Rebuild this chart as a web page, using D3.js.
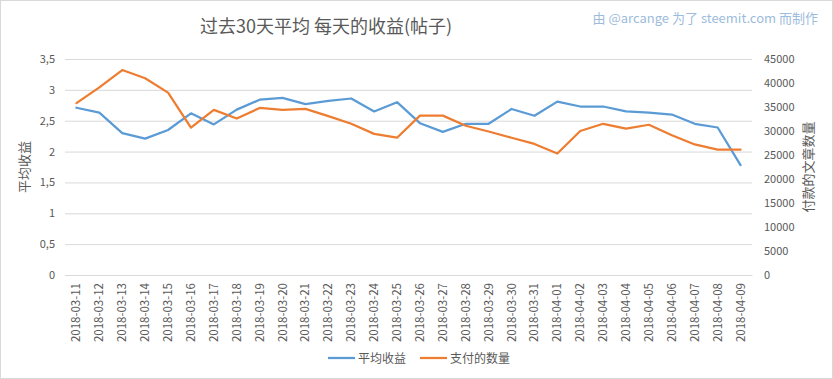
<!DOCTYPE html>
<html>
<head>
<meta charset="utf-8">
<script src="https://cdn.jsdelivr.net/npm/d3@7"></script>
<style>
body{margin:0;background:#fff;}
svg{display:block;}
text{font-family:"Noto Sans CJK SC","Noto Sans",sans-serif;}
</style>
</head>
<body>
<svg id="chart" width="833" height="379"></svg>
<script>
const dates = ["2018-03-11","2018-03-12","2018-03-13","2018-03-14","2018-03-15","2018-03-16","2018-03-17","2018-03-18","2018-03-19","2018-03-20","2018-03-21","2018-03-22","2018-03-23","2018-03-24","2018-03-25","2018-03-26","2018-03-27","2018-03-28","2018-03-29","2018-03-30","2018-03-31","2018-04-01","2018-04-02","2018-04-03","2018-04-04","2018-04-05","2018-04-06","2018-04-07","2018-04-08","2018-04-09"];
const avgIncome = [2.71,2.63,2.30,2.21,2.35,2.62,2.44,2.68,2.84,2.87,2.77,2.82,2.86,2.65,2.80,2.46,2.32,2.45,2.45,2.69,2.58,2.81,2.73,2.73,2.65,2.63,2.60,2.45,2.39,1.78];
const paidCount = [35800,39100,42700,41000,38000,30700,34400,32600,34800,34400,34600,33100,31500,29400,28600,33200,33200,31100,29900,28600,27300,25300,30000,31500,30500,31300,29100,27200,26100,26100];
const leftTicks = [0,0.5,1,1.5,2,2.5,3,3.5];
const rightTicks = [0,5000,10000,15000,20000,25000,30000,35000,40000,45000];
const titleText = "过去30天平均 每天的收益(帖子)";
const creditText = "由 @arcange 为了 steemit.com 而制作";
const leftTitle = "平均收益";
const rightTitle = "付款的文章数量";
const seriesNames = ["平均收益","支付的数量"];

const svg = d3.select("#chart");
const W = 833, H = 379;
const plot = {left:65, right:752, top:59, bottom:275};
const blue = "#5B9BD5", orange = "#ED7D31", grid = "#D9D9D9", txt = "#595959";

svg.append("rect").attr("x",0.5).attr("y",0.5).attr("width",W-1).attr("height",H-1)
  .attr("fill","#fff").attr("stroke","#D9D9D9");

const x = d3.scaleBand().domain(dates).range([plot.left, plot.right]).padding(0);
const yL = d3.scaleLinear().domain([0,3.5]).range([plot.bottom, plot.top]);
const yR = d3.scaleLinear().domain([0,45000]).range([plot.bottom, plot.top]);
const cx = d => x(d) + x.bandwidth()/2;

// gridlines
const gAxisL = svg.append("g").attr("transform",`translate(${plot.left},0)`)
  .call(d3.axisLeft(yL).tickValues(leftTicks).tickSize(-(plot.right-plot.left)).tickPadding(10)
    .tickFormat(d => String(d).replace(".",",")));
gAxisL.select(".domain").remove();
gAxisL.selectAll(".tick line").attr("stroke",grid).attr("stroke-width",1);
gAxisL.selectAll(".tick text").attr("fill",txt).style("font-size","11px").attr("font-family","'Liberation Sans',sans-serif");

const gAxisR = svg.append("g").attr("transform",`translate(${plot.right},0)`)
  .call(d3.axisRight(yR).tickValues(rightTicks).tickSize(0).tickPadding(12).tickFormat(d3.format("d")));
gAxisR.select(".domain").remove();
gAxisR.selectAll(".tick text").attr("fill",txt).style("font-size","11px").attr("font-family","'Liberation Sans',sans-serif");

const gAxisB = svg.append("g").attr("transform",`translate(0,${plot.bottom})`)
  .call(d3.axisBottom(x).tickSize(0).tickPadding(0));
gAxisB.select(".domain").attr("stroke",grid);
gAxisB.selectAll(".tick text").attr("fill",txt).style("font-size","11.5px")
  .attr("font-family","'Liberation Sans',sans-serif")
  .attr("text-anchor","end").attr("transform","translate(4,8) rotate(-90)").attr("dy","0").attr("x",0).attr("y",0);

// lines
const lineL = d3.line().x((d,i)=>cx(dates[i])).y(d=>yL(d));
const lineR = d3.line().x((d,i)=>cx(dates[i])).y(d=>yR(d));
svg.append("path").datum(avgIncome).attr("d",lineL).attr("fill","none").attr("stroke",blue)
  .attr("stroke-width",2.25).attr("stroke-linejoin","round").attr("stroke-linecap","round");
svg.append("path").datum(paidCount).attr("d",lineR).attr("fill","none").attr("stroke",orange)
  .attr("stroke-width",2.25).attr("stroke-linejoin","round").attr("stroke-linecap","round");

// title
svg.append("text").attr("x",326).attr("y",33).attr("text-anchor","middle").attr("fill",txt)
  .style("font-size","18px").text(titleText);
svg.append("text").attr("x",818).attr("y",23).attr("text-anchor","end").attr("fill","#9DBCDB")
  .style("font-size","13px").text(creditText);

// axis titles
svg.append("text").attr("transform","translate(29,167) rotate(-90)").attr("text-anchor","middle")
  .attr("fill",txt).style("font-size","13px").text(leftTitle);
svg.append("text").attr("transform","translate(813,167) rotate(-90)").attr("text-anchor","middle")
  .attr("fill",txt).style("font-size","13px").text(rightTitle);

// legend
const legend = svg.append("g");
const items = [{name:seriesNames[0],color:blue,x:328},{name:seriesNames[1],color:orange,x:420}];
items.forEach(it=>{
  legend.append("line").attr("x1",it.x).attr("x2",it.x+27).attr("y1",358).attr("y2",358)
    .attr("stroke",it.color).attr("stroke-width",2.25);
  legend.append("text").attr("x",it.x+30).attr("y",362.5).attr("fill",txt).style("font-size","12px").text(it.name);
});
</script>
</body>
</html>
